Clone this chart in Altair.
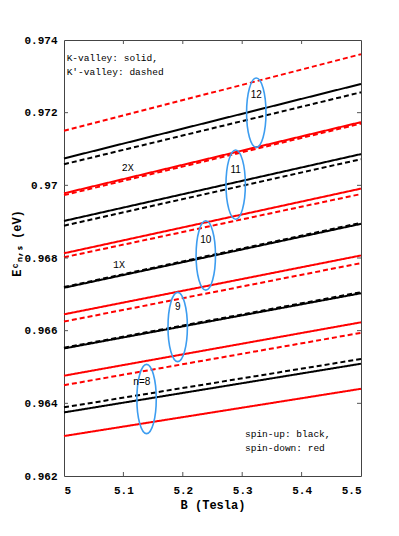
import altair as alt
import pandas as pd

# ---------------- data ----------------
B_ends = [5.0, 5.5]

red_solid_start = [0.96310, 0.96476, 0.96645, 0.96813, 0.96978]
red_solid_end = [0.96440, 0.96623, 0.96807, 0.96991, 0.97174]
red_dashed_start = [0.96450, 0.96625, 0.96802, 0.96973, 0.97150]
red_dashed_end = [0.96594, 0.96786, 0.96976, 0.97170, 0.97361]
black_solid_start = [0.96375, 0.96551, 0.96718, 0.96902, 0.97074]
black_solid_end = [0.96509, 0.96703, 0.96894, 0.97086, 0.97279]
black_dashed_start = [0.96389, 0.96553, 0.96720, 0.96889, 0.97058]
black_dashed_end = [0.96522, 0.96706, 0.96897, 0.97072, 0.97256]

x_ticks = [5.0, 5.1, 5.2, 5.3, 5.4, 5.5]
y_ticks = [0.962, 0.964, 0.966, 0.968, 0.970, 0.972, 0.974]

ellipse_B = [5.139, 5.1914, 5.2387, 5.289, 5.3237]
ellipse_E = [0.96412, 0.96610, 0.96807, 0.97002, 0.97200]

level_labels = ["n=8", "9", "10", "11", "12"]
level_label_B = [5.131, 5.1914, 5.2387, 5.289, 5.3237]
level_label_E = [0.96460, 0.96666, 0.96850, 0.97042, 0.97249]

cross_labels = ["2X", "1X"]
cross_B = [5.1072, 5.0926]
cross_E = [0.97049, 0.96781]

note_texts = ["K-valley: solid,", "K\u2032-valley: dashed", "spin-up: black,", "spin-down: red"]
note_B = [5.0045, 5.0045, 5.3047, 5.3047]
note_E = [0.97351, 0.97313, 0.96316, 0.96278]

# ---------------- tables ----------------
rows = []
for spin, valley, starts, ends in [
    ("black", "solid", black_solid_start, black_solid_end),
    ("red", "solid", red_solid_start, red_solid_end),
    ("black", "dashed", black_dashed_start, black_dashed_end),
    ("red", "dashed", red_dashed_start, red_dashed_end),
]:
    for i, (s, e) in enumerate(zip(starts, ends)):
        sid = f"{spin}-{valley}-{i}"
        rows.append(dict(B=B_ends[0], E=s, spin=spin, valley=valley, sid=sid))
        rows.append(dict(B=B_ends[1], E=e, spin=spin, valley=valley, sid=sid))
lines_df = pd.DataFrame(rows)

ell_df = pd.DataFrame({"B": ellipse_B, "E": ellipse_E})
lvl_df = pd.DataFrame({"B": level_label_B, "E": level_label_E, "t": level_labels})
cross_df = pd.DataFrame({"B": cross_B, "E": cross_E, "t": cross_labels})
note_df = pd.DataFrame({"B": note_B, "E": note_E, "t": note_texts})

xmin, xmax = x_ticks[0], x_ticks[-1]
ymin, ymax = y_ticks[0], y_ticks[-1]
W, H = 297, 436
tick_len_px = 4
dx = tick_len_px * (xmax - xmin) / W
dy = tick_len_px * (ymax - ymin) / H

tick_rows = []
for v in x_ticks[1:-1]:
    tick_rows.append(dict(B=v, B2=v, E=ymin, E2=ymin + dy))
    tick_rows.append(dict(B=v, B2=v, E=ymax, E2=ymax - dy))
for v in y_ticks[1:-1]:
    tick_rows.append(dict(B=xmin, B2=xmin + dx, E=v, E2=v))
    tick_rows.append(dict(B=xmax, B2=xmax - dx, E=v, E2=v))
ticks_df = pd.DataFrame(tick_rows)

# ---------------- chart ----------------
xs = alt.Scale(domain=[xmin, xmax], nice=False, zero=False)
ys = alt.Scale(domain=[ymin, ymax], nice=False, zero=False)

axis_common = dict(
    labelFont="Liberation Mono", labelFontWeight="bold", labelFontSize=11,
    labelColor="black", domain=False, ticks=False, grid=False,
    titleFont="Liberation Mono", titleFontWeight="bold", titleFontSize=12,
    titleColor="black", format="~g",
)

x_axis = alt.Axis(values=x_ticks, title="B (Tesla)", labelPadding=8,
                  titleY=28, titleBaseline="middle", **axis_common)
y_axis = alt.Axis(values=y_ticks, title="E\u1d9c\u2099,\u209b (eV)", labelPadding=7,
                  titleAngle=270, titleX=-48, titleY=203, titleAlign="center",
                  titleBaseline="middle", **axis_common)

X = alt.X("B:Q", scale=xs, axis=x_axis)
Y = alt.Y("E:Q", scale=ys, axis=y_axis)

color_scale = alt.Scale(domain=["black", "red"], range=["#000000", "#ff0000"])
dash_scale = alt.Scale(domain=["solid", "dashed"], range=[[1, 0], [5, 3]])


def line_layer(kind):
    return alt.Chart(lines_df).transform_filter(alt.datum.valley == kind).mark_line(
        strokeWidth=2
    ).encode(
        x=X, y=Y,
        color=alt.Color("spin:N", scale=color_scale, legend=None),
        strokeDash=alt.StrokeDash("valley:N", scale=dash_scale, legend=None),
        detail="sid:N",
    )


solid = line_layer("solid")
dashed = line_layer("dashed")

ticks = alt.Chart(ticks_df).mark_rule(color="#555555", strokeWidth=1).encode(
    x=X, x2="B2:Q", y=Y, y2="E2:Q",
)

ellipse_path = ("M0,-1C0.1546,-1 0.28,-0.5523 0.28,0C0.28,0.5523 0.1546,1 0,1"
                "C-0.1546,1 -0.28,0.5523 -0.28,0C-0.28,-0.5523 -0.1546,-1 0,-1Z")
ellipses = alt.Chart(ell_df).mark_point(
    shape=ellipse_path, filled=False, stroke="#3d9df0", strokeWidth=1.6,
    size=4800, opacity=1,
).encode(x=X, y=Y)

lvl = alt.Chart(lvl_df).mark_text(
    font="Liberation Sans", fontSize=10, color="black", align="center", baseline="middle"
).encode(x=X, y=Y, text="t:N")

cross = alt.Chart(cross_df).mark_text(
    font="Liberation Mono", fontSize=10, color="black", align="center", baseline="middle"
).encode(x=X, y=Y, text="t:N")

notes = alt.Chart(note_df).mark_text(
    font="Liberation Mono", fontSize=9.5, color="black", align="left", baseline="middle"
).encode(x=X, y=Y, text="t:N")

chart = alt.layer(solid, dashed, ticks, ellipses, lvl, cross, notes).properties(
    width=W, height=H,
    autosize=alt.AutoSizeParams(type="none"),
    padding={"left": 56, "top": 32, "right": 30, "bottom": 52},
    background="white",
).configure_view(stroke="#444444", strokeWidth=1)

chart.save("out.html", embed_options={"renderer": "svg", "actions": False})
